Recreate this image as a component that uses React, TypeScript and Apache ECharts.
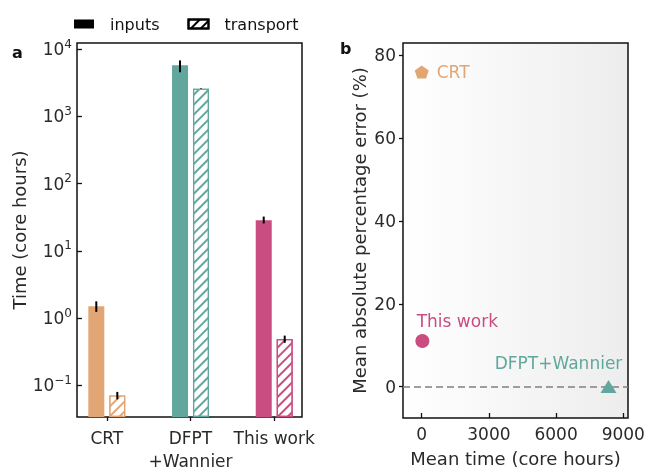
import React, { useEffect, useRef } from 'react';
import * as echarts from 'echarts';

// ---- Panel a data ----
const categories = ['CRT', 'DFPT\n+Wannier', 'This work'];
const groupColors = ['#E2A674', '#62A79D', '#C94D80'];
const inputsHours = [1.5, 5750, 28.6];
const inputsLow = [1.24, 4540, 25.6];
const inputsHigh = [1.78, 6810, 32.4];
const transportHours = [0.071, 2590, 0.49];
const transportLow = [0.062, 2565, 0.43];
const transportHigh = [0.08, 2615, 0.55];
const logTickExponents = [-1, 0, 1, 2, 3, 4];

// ---- Panel b data ----
const methods = ['CRT', 'This work', 'DFPT+Wannier'];
const methodColors = ['#E2A674', '#C94D80', '#62A79D'];
const meanTimeHours = [1.6, 29, 8340];
const mapePercent = [76, 11, 0];
const timeTicks = [0, 3000, 6000, 9000];
const errorTicks = [0, 20, 40, 60, 80];

const FONT = 'DejaVu Sans';
const TXT = '#2a2a2a';
const YMIN = -1.47;
const YMAX = 4.092;

const hatch = (c: string) => ({
  symbol: 'rect',
  symbolSize: 1,
  dashArrayX: [1, 0],
  dashArrayY: [1.7, 4.3],
  rotation: -Math.PI / 4,
  color: c,
});

export default function App() {
  const ref = useRef<HTMLDivElement>(null);
  useEffect(() => {
    if (!ref.current) return;
    const chart = echarts.init(ref.current, null, { renderer: 'svg' });

    const errRows: number[][] = [];
    categories.forEach((_, i) => {
      errRows.push([i, 0, Math.log10(inputsLow[i]), Math.log10(inputsHigh[i])]);
      errRows.push([i, 1, Math.log10(transportLow[i]), Math.log10(transportHigh[i])]);
    });

    const pentagon = 'path://M0,-1 L0.951,-0.309 L0.588,0.809 L-0.588,0.809 L-0.951,-0.309 Z';
    const symbols = [pentagon, 'circle', 'triangle'];
    const symbolSizes = [[14, 13], 14, [16, 13]];
    const labelCfg = [
      { position: 'right', distance: 8, offset: [0, 0] },
      { position: 'top', distance: 6, offset: [35, 1] },
      { position: 'top', distance: 6, offset: [-50, -3] },
    ];

    chart.setOption({
      animation: false,
      textStyle: { fontFamily: FONT },
      legend: {
        data: ['inputs', 'transport'],
        left: 69,
        top: 11,
        icon: 'rect',
        itemWidth: 20,
        itemHeight: 9,
        itemGap: 28,
        selectedMode: false,
        textStyle: { fontSize: 16, color: '#111', fontFamily: FONT, padding: [0, 0, 0, 11] },
      },
      graphic: [
        { type: 'text', left: 12, top: 44, style: { text: 'a', fontSize: 16, fontWeight: 'bold', fill: '#111', fontFamily: FONT } },
        { type: 'text', left: 340, top: 40, style: { text: 'b', fontSize: 16, fontWeight: 'bold', fill: '#111', fontFamily: FONT } },
      ],
      grid: [
        { left: 77, top: 43, width: 225, height: 379, show: true, borderColor: '#111', borderWidth: 1.5, backgroundColor: 'transparent' },
        {
          left: 403, top: 43, width: 225, height: 379, show: true, borderColor: '#111', borderWidth: 1.5,
          backgroundColor: new echarts.graphic.LinearGradient(0, 0, 1, 0, [
            { offset: 0, color: '#ffffff' },
            { offset: 1, color: '#ededed' },
          ]),
        },
      ],
      xAxis: [
        {
          type: 'value', gridIndex: 0, min: -0.356, max: 2.332,
          axisLine: { show: false, onZero: false },
          splitLine: { show: false },
          axisTick: { show: true, customValues: [0, 1, 2], inside: false, length: 4, lineStyle: { color: '#111', width: 1.3 } },
          axisLabel: {
            customValues: [0, 1, 2],
            formatter: (v: number) => categories[Math.round(v)],
            fontSize: 17, lineHeight: 23, margin: 9, color: TXT, fontFamily: FONT,
          },
        },
        {
          type: 'value', gridIndex: 1, min: -835, max: 9210,
          axisLine: { show: false, onZero: false },
          splitLine: { show: false },
          axisTick: { show: true, customValues: timeTicks, inside: true, length: 5, lineStyle: { color: '#111', width: 1.3 } },
          axisLabel: {
            customValues: timeTicks, fontSize: 17, margin: 7, color: TXT, fontFamily: FONT,
            formatter: (v: number) => String(Math.round(v)),
          },
          name: 'Mean time (core hours)', nameLocation: 'middle', nameGap: 31,
          nameTextStyle: { fontSize: 18, color: TXT, fontFamily: FONT },
        },
      ],
      yAxis: [
        {
          type: 'value', gridIndex: 0, min: YMIN, max: YMAX, startValue: YMIN,
          axisLine: { show: false, onZero: false },
          splitLine: { show: false },
          axisTick: { show: true, customValues: logTickExponents, inside: true, length: 5, lineStyle: { color: '#111', width: 1.3 } },
          axisLabel: {
            customValues: logTickExponents,
            margin: 5,
            formatter: (v: number) => {
              const e = Math.round(v);
              return `{b|10}{s|${e < 0 ? '\u2212' + Math.abs(e) : e}}`;
            },
            rich: {
              b: { fontSize: 17, color: TXT, fontFamily: FONT },
              s: { fontSize: 12, color: TXT, fontFamily: FONT, padding: [0, 0, 11, 0] },
            },
          },
          name: 'Time (core hours)', nameLocation: 'middle', nameGap: 44,
          nameTextStyle: { fontSize: 18, color: TXT, fontFamily: FONT },
        },
        {
          type: 'value', gridIndex: 1, min: -7.6, max: 83,
          axisLine: { show: false, onZero: false },
          splitLine: { show: false },
          axisTick: { show: true, customValues: errorTicks, inside: false, length: 4, lineStyle: { color: '#111', width: 1.3 } },
          axisLabel: { customValues: errorTicks, fontSize: 17, margin: 7, color: TXT, fontFamily: FONT },
          name: 'Mean absolute percentage error (%)', nameLocation: 'middle', nameGap: 35,
          nameTextStyle: { fontSize: 18, color: TXT, fontFamily: FONT },
        },
      ],
      series: [
        {
          name: 'inputs', type: 'bar', xAxisIndex: 0, yAxisIndex: 0,
          barWidth: 16, barGap: '31%',
          itemStyle: { color: '#000' },
          data: categories.map((_, i) => ({
            value: [i, Math.log10(inputsHours[i])],
            itemStyle: { color: groupColors[i] },
          })),
        },
        {
          name: 'transport', type: 'bar', xAxisIndex: 0, yAxisIndex: 0,
          barWidth: 16, barGap: '31%',
          itemStyle: { color: '#fff', borderColor: '#000', borderWidth: 1.2, decal: hatch('#000') },
          data: categories.map((_, i) => ({
            value: [i, Math.log10(transportHours[i])],
            itemStyle: { color: '#fff', borderColor: groupColors[i], borderWidth: 1.2, decal: hatch(groupColors[i]) },
          })),
        },
        {
          name: 'err', type: 'custom', xAxisIndex: 0, yAxisIndex: 0, z: 10, clip: false,
          dimensions: ['x', 's', 'lo', 'hi'],
          encode: { x: 'x', y: ['lo', 'hi'] },
          data: errRows,
          renderItem: (params: any, api: any) => {
            const x = api.value(0);
            const s = api.value(1);
            const p1 = api.coord([x, api.value(2)]);
            const p2 = api.coord([x, api.value(3)]);
            const off = s === 0 ? -10.5 : 10.5;
            return {
              type: 'line',
              shape: { x1: p1[0] + off, y1: p1[1], x2: p2[0] + off, y2: p2[1] },
              style: { stroke: '#000', lineWidth: 2 },
            };
          },
        },
        {
          name: 'methods', type: 'scatter', xAxisIndex: 1, yAxisIndex: 1, z: 5,
          data: methods.map((m, i) => ({
            name: m,
            value: [meanTimeHours[i], mapePercent[i]],
            symbol: symbols[i],
            symbolSize: symbolSizes[i],
            itemStyle: { color: methodColors[i], opacity: 1 },
            label: {
              show: true,
              formatter: m,
              color: methodColors[i],
              fontSize: 17,
              fontFamily: FONT,
              position: labelCfg[i].position,
              distance: labelCfg[i].distance,
              offset: labelCfg[i].offset,
            },
          })),
          markLine: {
            silent: true,
            symbol: ['none', 'none'],
            label: { show: false },
            lineStyle: { type: [7, 4], color: '#808080', width: 1.6 },
            data: [{ yAxis: 0 }],
            z: 1,
          },
        },
      ],
    });
    return () => chart.dispose();
  }, []);
  return <div ref={ref} style={{ position: 'fixed', left: 0, top: 0, width: 649, height: 472 }} />;
}
